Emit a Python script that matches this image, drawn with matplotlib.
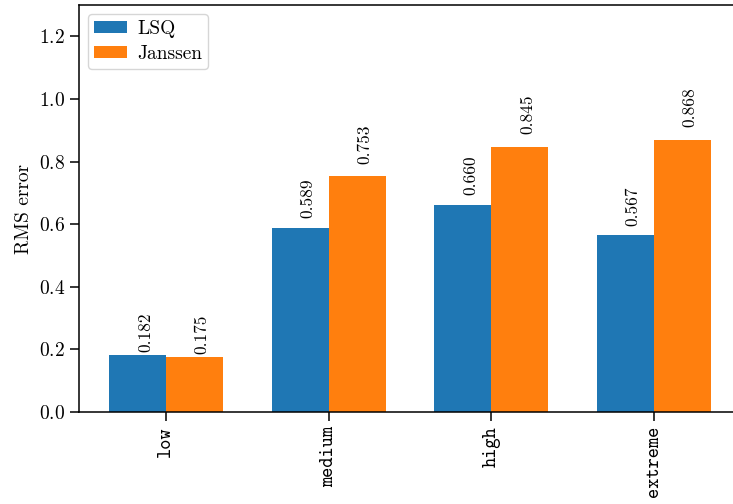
import numpy as np
import matplotlib
matplotlib.use("Agg")
import matplotlib.pyplot as plt

plt.rcParams["font.family"] = ["cmr10", "DejaVu Serif"]
plt.rcParams["axes.formatter.use_mathtext"] = True
plt.rcParams["mathtext.fontset"] = "cm"

categories = ["low", "medium", "high", "extreme"]
lsq = [0.182, 0.589, 0.660, 0.567]
janssen = [0.175, 0.753, 0.845, 0.868]
series_names = ["LSQ", "Janssen"]

fig = plt.figure(figsize=(7.33, 5.04), dpi=100)
ax = fig.add_axes([0.1078, 0.1825, 0.903, 0.8075])

x = np.arange(len(categories))
w = 0.35
b1 = ax.bar(x - w / 2, lsq, w, color="#1f77b4", label=series_names[0])
b2 = ax.bar(x + w / 2, janssen, w, color="#ff7f0e", label=series_names[1])

# value labels sit just above each bar, rotated
for bars, vals in ((b1, lsq), (b2, janssen)):
    for rect, v in zip(bars, vals):
        ax.text(rect.get_x() + rect.get_width() / 2, 1.05 * v, f"{v:.3f}",
                rotation=90, ha="left", va="bottom", fontsize=12.5)

ax.set_ylim(0, 1.3)
ax.set_yticks(np.arange(0, 1.21, 0.2))
ax.set_xticks(x)
ax.set_xticklabels(categories, rotation=90, family="cmtt10", fontsize=14)
ax.tick_params(axis="y", labelsize=14)
ax.tick_params(length=6.5, width=1.1)
for s in ax.spines.values():
    s.set_linewidth(1.1)
ax.set_ylabel("RMS error", fontsize=14)
ax.legend(loc="upper left", fontsize=14, handlelength=1.7, handleheight=0.57,
          handletextpad=0.55, labelspacing=0.4, borderpad=0.3,
          borderaxespad=0.45)

fig.savefig("out.png", dpi=100)
